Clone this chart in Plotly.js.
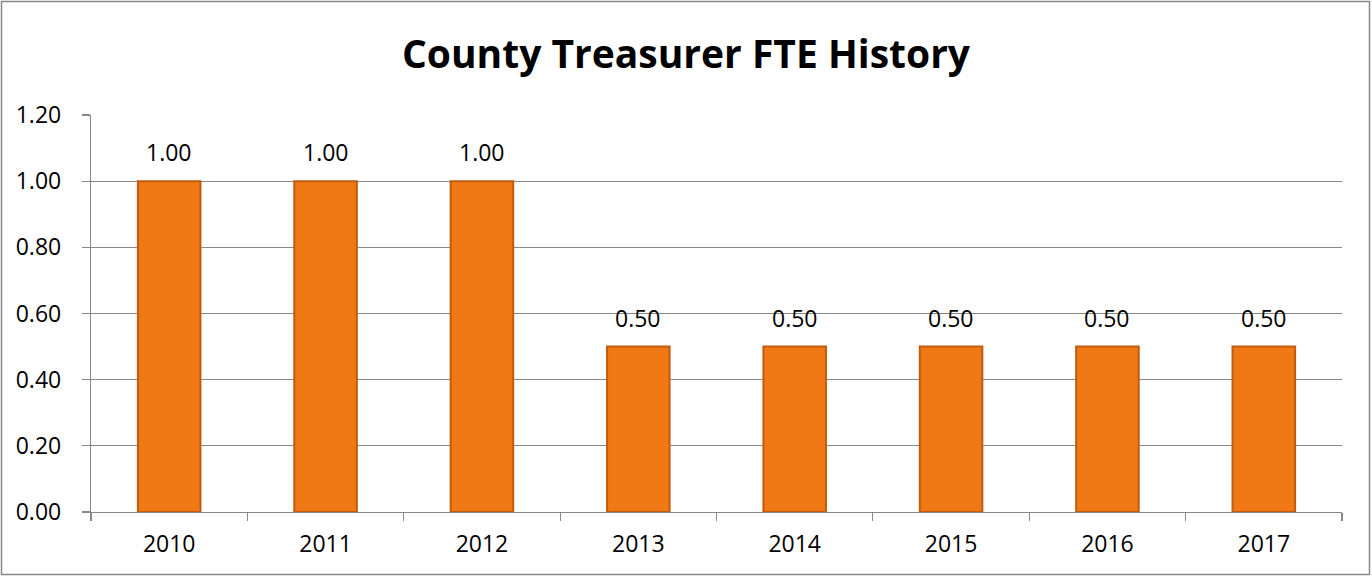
<!DOCTYPE html>
<html>
<head>
<meta charset="utf-8">
<script src="https://cdn.plot.ly/plotly-3.0.1.min.js"></script>
<style>html,body{margin:0;padding:0;background:#fff;}#chart{width:1372px;height:577px;}</style>
</head>
<body>
<div id="chart"></div>
<script>
var years = ['2010','2011','2012','2013','2014','2015','2016','2017'];
var fte = [1.00, 1.00, 1.00, 0.50, 0.50, 0.50, 0.50, 0.50];
var yTicks = [0, 0.2, 0.4, 0.6, 0.8, 1.0, 1.2];

var W = 1372, H = 577;
var m = {l: 91, r: 30, t: 115, b: 65};
var pw = W - m.l - m.r, ph = H - m.t - m.b;
var FONT = '"Open Sans", "Noto Sans", sans-serif';

var trace = {
  type: 'bar',
  x: years,
  y: fte,
  marker: {color: '#F07815', line: {color: '#C05C0D', width: 2}},
  hoverinfo: 'skip'
};

var annotations = years.map(function (yr, i) {
  return {
    x: i, y: fte[i], xref: 'x', yref: 'y',
    text: fte[i].toFixed(2), showarrow: false,
    yanchor: 'bottom', yshift: 11,
    font: {family: FONT, size: 23, color: '#000'}
  };
});

var layout = {
  width: W, height: H,
  margin: m,
  paper_bgcolor: '#fff', plot_bgcolor: '#fff',
  showlegend: false,
  bargap: 0.6,
  title: {text: '<b>County Treasurer FTE History</b>', x: 0.5, xref: 'container', xanchor: 'center', y: 1 - 54 / H, yanchor: 'middle',
    font: {family: FONT, size: 39, color: '#000'}},
  xaxis: {
    type: 'category', categoryorder: 'array', categoryarray: years,
    range: [-0.5, years.length - 0.5], autorange: false,
    showline: true, linecolor: '#888', linewidth: 1.2,
    ticks: 'outside', tickson: 'boundaries', ticklen: 8, tickcolor: '#888', tickwidth: 1.2,
    showgrid: false, tickangle: 0,
    tickfont: {family: FONT, size: 23, color: '#000'},
    ticklabelstandoff: 11
  },
  yaxis: {
    range: [0, 1.2], autorange: false, tickvals: yTicks, ticktext: yTicks.map(function (v) { return v.toFixed(2); }),
    showline: true, linecolor: '#888', linewidth: 1.2,
    ticks: 'outside', ticklen: 8, tickcolor: '#888', tickwidth: 1.2,
    showgrid: true, gridcolor: '#888', gridwidth: 1.2,
    zeroline: false,
    tickfont: {family: FONT, size: 23, color: '#000'},
    ticklabelstandoff: 16
  },
  shapes: [{
    type: 'rect', xref: 'paper', yref: 'paper', layer: 'below',
    x0: (1.5 - m.l) / pw, x1: (W - 2.5 - m.l) / pw,
    y0: (m.t + ph - (H - 2.5)) / ph, y1: (m.t + ph - 1.5) / ph,
    line: {color: '#888', width: 1.5}, fillcolor: 'rgba(0,0,0,0)'
  }],
  annotations: annotations
};

Plotly.newPlot('chart', [trace], layout, {displayModeBar: false, staticPlot: true});
</script>
</body>
</html>
